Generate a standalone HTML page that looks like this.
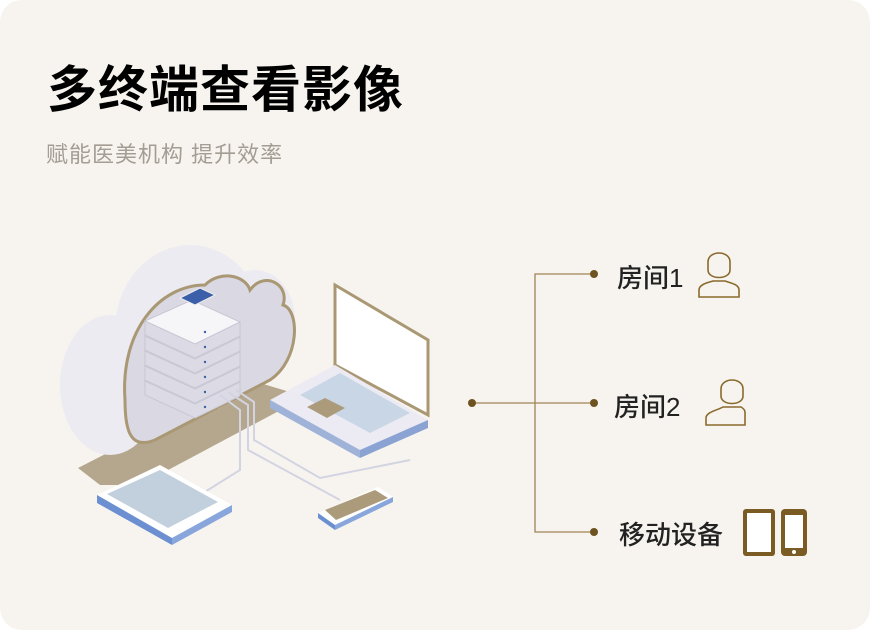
<!DOCTYPE html>
<html><head><meta charset="utf-8"><style>
html,body{margin:0;padding:0;background:#fff;}
.card{position:absolute;left:0;top:0;width:870px;height:630px;border-radius:22px;background:#f7f4ef;overflow:hidden;font-family:"Liberation Sans","Noto Sans CJK SC",sans-serif;}
.t{position:absolute;left:47px;top:50px;font-size:50px;font-weight:bold;color:#000;letter-spacing:1px;}
.s{position:absolute;left:46px;top:137px;font-size:22px;color:#a39d93;letter-spacing:1px;}
.l{position:absolute;font-size:26px;color:#222;font-weight:500;}
</style></head><body><div class="card">
<div class="t">多终端查看影像</div>
<div class="s">赋能医美机构 提升效率</div>
<svg width="870" height="630" style="position:absolute;left:0;top:0">
<polygon points="78,468 250,380 300,395 290,405 140,485 100,485" fill="#b5a78d"/>
<g fill="#ecebf1">
<ellipse cx="110" cy="385" rx="50" ry="70"/>
<ellipse cx="190" cy="330" rx="75" ry="85"/>
<ellipse cx="255" cy="320" rx="40" ry="50"/>
</g>
<path d="M125,400 C120,330 160,285 205,285 C220,270 245,275 250,290 C265,270 290,285 283,305 C300,310 300,360 270,380 L155,440 C130,450 125,430 125,400Z" fill="#d9d8e3" stroke="#a99873" stroke-width="3"/>
<!-- server slabs -->
<g stroke="#c8c7d4" stroke-width="1">
<g id="slab">
<polygon points="145,395 195,418 240,396 240,382 195,404 145,381" fill="#dcdbe5"/>
<polygon points="145,381 192,360 240,382 195,404" fill="#f6f6f9"/>
</g>
<polygon points="145,380 195,403 240,381 240,367 195,389 145,366" fill="#dcdbe5"/>
<polygon points="145,366 192,345 240,367 195,389" fill="#f6f6f9"/>
<polygon points="145,365 195,388 240,366 240,352 195,374 145,351" fill="#dcdbe5"/>
<polygon points="145,351 192,330 240,352 195,374" fill="#f6f6f9"/>
<polygon points="145,350 195,373 240,351 240,337 195,359 145,336" fill="#dcdbe5"/>
<polygon points="145,336 192,315 240,337 195,359" fill="#f6f6f9"/>
<polygon points="145,335 195,358 240,336 240,322 195,344 145,321" fill="#dcdbe5"/>
<polygon points="145,321 192,300 240,322 195,344" fill="#f6f6f9"/>
</g>
<polygon points="180,298 200,288 215,295 195,305" fill="#3b5fa8" stroke="#eee"/>
<g fill="#3b5fa8"><circle cx="205" cy="332" r="1.2"/><circle cx="205" cy="347" r="1.2"/><circle cx="205" cy="362" r="1.2"/><circle cx="205" cy="377" r="1.2"/><circle cx="205" cy="392" r="1.2"/><circle cx="205" cy="407" r="1.2"/></g>
<g fill="none" stroke="#d3d4e2" stroke-width="2">
<path d="M220,395 L240,410 L240,470 L200,495"/>
<path d="M228,392 L248,405 L248,450 L340,500"/>
<path d="M236,390 L254,402 L254,440 L320,478 L410,460"/>
</g>
<polygon points="335,285 428,340 428,415 335,365" fill="#fff" stroke="#a99873" stroke-width="3"/>
<polygon points="270,400 335,365 428,420 360,450" fill="#ecebf3"/>
<polygon points="270,400 360,450 360,458 270,408" fill="#9fb2d8"/>
<polygon points="360,450 428,420 428,428 360,458" fill="#8aa3d3"/>
<polygon points="300,395 340,373 410,413 370,433" fill="#c9d6e6"/>
<polygon points="307,407 325,398 345,408 327,418" fill="#ab9b7b"/>
<polygon points="97,495 160,465 232,505 172,538" fill="#fff"/>
<polygon points="97,495 172,538 172,545 97,503" fill="#6b8fd0"/>
<polygon points="172,538 232,505 232,512 172,545" fill="#88a6dc"/>
<polygon points="107,494 160,470 218,502 168,528" fill="#c2d0dd"/>
<polygon points="318,513 378,487 393,497 335,525" fill="#fff"/>
<polygon points="325,510 375,490 388,498 336,520" fill="#ab9b7b"/>
<polygon points="318,513 335,525 335,530 318,518" fill="#6b8fd0"/>
<polygon points="335,525 393,497 393,502 335,530" fill="#88a6dc"/>
<g stroke="#a08454" stroke-width="1.3" fill="none">
<line x1="472" y1="403" x2="594" y2="403"/>
<polyline points="594,274 535,274 535,532 594,532"/>
</g>
<g fill="#6e5220">
<circle cx="472" cy="403" r="4"/><circle cx="594" cy="274" r="4"/><circle cx="594" cy="403" r="4"/><circle cx="594" cy="532" r="4"/>
</g>
<g fill="none" stroke="#8a6a2c" stroke-width="1.6">
<path d="M708,262 C708,250 730,250 730,262 L730,270 C730,280 708,280 708,270Z"/>
<path d="M699,297 L699,290 C699,284 710,282 713,281 L725,281 C730,283 739,284 739,290 L739,297Z"/>
<path d="M721,389 C721,377 743,377 743,389 L743,396 C743,406 721,406 721,396Z"/>
<path d="M706,425 L706,418 C706,412 718,410 723,407 L741,407 C746,410 745,412 745,418 L745,425Z"/>
</g>
<g fill="#7a5b24">
<rect x="743" y="509" width="32" height="47" rx="3"/>
<rect x="781" y="509" width="26" height="47" rx="4"/>
</g>
<rect x="747" y="513" width="24" height="39" fill="#fff"/>
<rect x="785" y="515" width="18" height="33" fill="#fff"/>
<circle cx="794" cy="552" r="2" fill="#fff"/>
</svg>
<div class="l" style="left:617px;top:258px">房间1</div>
<div class="l" style="left:614px;top:387px">房间2</div>
<div class="l" style="left:619px;top:515px">移动设备</div>
</div></body></html>
